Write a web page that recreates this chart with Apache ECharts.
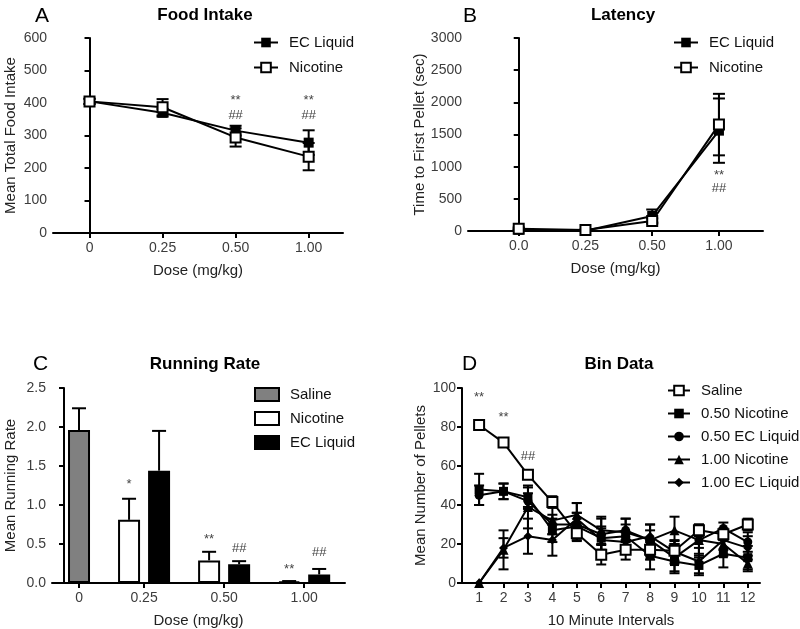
<!DOCTYPE html>
<html><head><meta charset="utf-8">
<script src="https://cdn.jsdelivr.net/npm/echarts@6/dist/echarts.min.js"></script>
<style>html,body{margin:0;padding:0;background:#fff}#c{width:800px;height:629px}</style>
</head><body><div id="c"></div>
<script>
// ---------- DATA ----------
const doseLabelsA = ['0', '0.25', '0.50', '1.00'];
const doseLabelsB = ['0.0', '0.25', '0.50', '1.00'];
const doseLabelsC = ['0', '0.25', '0.50', '1.00'];
const binLabels = [1,2,3,4,5,6,7,8,9,10,11,12];

// A: Food intake
const foodEC = [405, 370, 315, 278];
const foodECErr = [8, 12, 15, 38];
const foodNic = [405, 387, 294, 235];
const foodNicErr = [8, 25, 28, 42];
const foodSigIdx = [2, 2, 3, 3];
const foodSigY = [409, 363, 409, 363];
const foodSigText = ['**', '##', '**', '##'];

// B: Latency
const latEC = [20, 5, 234, 1560];
const latECErr = [15, 5, 100, 500];
const latNic = [36, 15, 156, 1654];
const latNicErr = [20, 8, 40, 478];
const latSigIdx = [3, 3];
const latSigY = [858, 660];
const latSigText = ['**', '##'];

// C: Running rate
const runSaline = [1.96];
const runSalineErr = [0.28];
const runNic = [0.81, 0.29, 0.02];
const runNicErr = [0.27, 0.11, 0.005];
const runEC = [1.44, 0.24, 0.11];
const runECErr = [0.51, 0.04, 0.07];
const runSigNicY = [1.26, 0.56, 0.18];
const runSigNicText = ['*', '**', '**'];
const runSigECY = [null, 0.44, 0.39];
const runSigECText = ['', '##', '##'];

// D: Bin data
const binSaline = [81, 72, 55.5, 41.5, 25.5, 14.5, 17, 17, 16.5, 27, 25, 30];
const binSalineErr = [2, 1.5, 2, 3, 4, 5, 5, 5, 5, 3, 3, 3];
const binNic050 = [48, 47, 44, 27, 29, 23, 24, 14, 11, 9, 15, 13];
const binNic050Err = [8, 4, 5, 6, 7, 6, 6, 7, 6, 4, 7, 6];
const binEC050 = [45, 47, 42, 30, 30, 25, 27, 22, 13, 22, 28, 21];
const binEC050Err = [5, 4, 4, 5, 6, 8, 6, 5, 7, 8, 3, 5];
const binNic100 = [0, 17, 39, 32, 35, 27, 26, 22, 27, 22, 20, 10];
const binNic100Err = [0, 10, 11, 7, 6, 7, 7, 8, 7, 7, 6, 4];
const binEC100 = [0, 18, 24, 22, 33, 22, 21, 24, 16, 11, 22, 18];
const binEC100Err = [0, 5, 9, 8, 8, 6, 5, 6, 6, 7, 5, 6];
const binSigX = [1, 2, 3];
const binSigY = [95, 85, 65];
const binSigText = ['**', '**', '##'];

// ---------- LAYOUT / STYLE ----------
const FONT = 'Liberation Sans, Arial, Helvetica, sans-serif';
const TICKC = '#3c3c3c';
const idx4 = [0, 1, 2, 3];
const halfSlot = 0.1875;
const groupC = [1, 2, 3];
const nicX = groupC.map(g => g - halfSlot);
const ecX = groupC.map(g => g + halfSlot);
const salX = [halfSlot];
const tickC = [halfSlot].concat(groupC);

function pairs(xs, ys) { return xs.map((x, i) => [x, ys[i]]); }
function triples(xs, ys, es) { return xs.map((x, i) => [x, ys[i], es[i]]); }

function xAxis(gi, min, max, ticks, fmt, name) {
  return {
    type: 'value', gridIndex: gi, min, max,
    axisLine: { show: true, lineStyle: { color: '#000', width: 2 } },
    axisTick: { show: true, length: 5, lineStyle: { color: '#000', width: 2 }, customValues: ticks },
    axisLabel: { color: TICKC, fontSize: 14, fontFamily: FONT, margin: 8, customValues: ticks, formatter: fmt },
    splitLine: { show: false },
    name, nameLocation: 'middle', nameGap: 30,
    nameTextStyle: { color: '#222', fontSize: 15, fontFamily: FONT }
  };
}
function yAxis(gi, max, interval, fmt, name, gap) {
  return {
    type: 'value', gridIndex: gi, min: 0, max, interval,
    axisLine: { show: true, lineStyle: { color: '#000', width: 2 } },
    axisTick: { show: true, length: 5, lineStyle: { color: '#000', width: 2 } },
    axisLabel: { color: TICKC, fontSize: 14, fontFamily: FONT, margin: 6, formatter: fmt },
    splitLine: { show: false },
    name, nameLocation: 'middle', nameGap: gap, nameRotate: 90,
    nameTextStyle: { color: '#222', fontSize: 15, fontFamily: FONT }
  };
}
function lineS(name, gi, xs, ys, sym, size, fill) {
  return {
    type: 'line', name, xAxisIndex: gi, yAxisIndex: gi, data: pairs(xs, ys),
    symbol: sym, symbolSize: size, showSymbol: true, z: 4,
    lineStyle: { color: '#000', width: 2 },
    itemStyle: { color: fill, borderColor: '#000', borderWidth: fill === '#fff' ? 2 : 0, opacity: 1 },
    emphasis: { disabled: true }
  };
}
function errS(gi, xs, ys, es, cap, upOnly) {
  return {
    type: 'custom', xAxisIndex: gi, yAxisIndex: gi, z: 3, silent: true,
    data: triples(xs, ys, es), encode: { x: 0, y: 1 },
    renderItem: function (params, api) {
      const x = api.value(0), y = api.value(1), e = api.value(2);
      if (!e) return null;
      const t = api.coord([x, y + e]);
      const b = api.coord([x, upOnly ? y : y - e]);
      const st = { stroke: '#000', lineWidth: 2 };
      const ch = [
        { type: 'line', shape: { x1: t[0], y1: t[1], x2: b[0], y2: b[1] }, style: st },
        { type: 'line', shape: { x1: t[0] - cap / 2, y1: t[1], x2: t[0] + cap / 2, y2: t[1] }, style: st }
      ];
      if (!upOnly) ch.push({ type: 'line', shape: { x1: b[0] - cap / 2, y1: b[1], x2: b[0] + cap / 2, y2: b[1] }, style: st });
      return { type: 'group', children: ch };
    }
  };
}
function sigS(gi, xs, ys, texts) {
  const data = [], tx = [];
  xs.forEach((x, i) => { if (ys[i] != null && texts[i]) { data.push([x, ys[i]]); tx.push(texts[i]); } });
  return {
    type: 'custom', xAxisIndex: gi, yAxisIndex: gi, z: 5, silent: true,
    data, encode: { x: 0, y: 1 },
    renderItem: function (params, api) {
      const p = api.coord([api.value(0), api.value(1)]);
      return { type: 'text', x: p[0], y: p[1],
        style: { text: tx[params.dataIndex], fill: '#444', fontSize: 13, fontFamily: FONT, align: 'center', verticalAlign: 'middle' } };
    }
  };
}
function legend(left, top, names, iw, ih, gap, icon) {
  const l = {
    orient: 'vertical', left, top, itemWidth: iw, itemHeight: ih, itemGap: gap,
    data: names, selectedMode: false,
    formatter: n => n.split('|')[1],
    textStyle: { color: '#111', fontSize: 15, fontFamily: FONT, padding: [0, 0, 0, 6] }
  };
  if (icon) l.icon = icon;
  return l;
}
function title(text, left, top, size, bold) {
  return { text, left, top, textAlign: bold ? 'center' : 'left',
    textStyle: { color: '#000', fontSize: size, fontWeight: bold ? 'bold' : 'normal', fontFamily: FONT } };
}

const option = {
  animation: false,
  backgroundColor: '#fff',
  title: [
    title('A', 30, 1, 21, false), title('Food Intake', 200, 2, 17, true),
    title('B', 458, 1, 21, false), title('Latency', 618, 2, 17, true),
    title('C', 28, 349, 21, false), title('Running Rate', 200, 351, 17, true),
    title('D', 457, 349, 21, false), title('Bin Data', 614, 351, 17, true)
  ],
  grid: [
    { left: 53, top: 38, width: 290, height: 195, outerBoundsMode: 'none' },
    { left: 468, top: 38, width: 295, height: 193, outerBoundsMode: 'none' },
    { left: 52, top: 388, width: 293, height: 195, outerBoundsMode: 'none' },
    { left: 462, top: 388, width: 298, height: 195, outerBoundsMode: 'none' }
  ],
  legend: [
    legend(248, 30, ['A|EC Liquid', 'A|Nicotine'], 24, 12, 10),
    legend(668, 30, ['B|EC Liquid', 'B|Nicotine'], 24, 12, 10),
    legend(249, 382, ['C|Saline', 'C|Nicotine', 'C|EC Liquid'], 24, 13, 9, 'rect'),
    legend(662, 378, ['D|Saline', 'D|0.50 Nicotine', 'D|0.50 EC Liquid', 'D|1.00 Nicotine', 'D|1.00 EC Liquid'], 22, 12, 8)
  ],
  xAxis: [
    xAxis(0, -0.5, 3.47, idx4, v => doseLabelsA[Math.round(v)], 'Dose (mg/kg)'),
    xAxis(1, -0.76, 3.66, idx4, v => doseLabelsB[Math.round(v)], 'Dose (mg/kg)'),
    xAxis(2, -0.15, 3.51, tickC, v => doseLabelsC[tickC.findIndex(t => Math.abs(t - v) < 1e-6)], 'Dose (mg/kg)'),
    xAxis(3, 0.3, 12.5, binLabels, v => String(v), '10 Minute Intervals')
  ],
  yAxis: [
    yAxis(0, 600, 100, v => String(v), 'Mean Total Food Intake', 35),
    yAxis(1, 3000, 500, v => String(v), 'Time to First Pellet (sec)', 38),
    yAxis(2, 2.5, 0.5, v => v.toFixed(1), 'Mean Running Rate', 34),
    yAxis(3, 100, 20, v => String(v), 'Mean Number of Pellets', 34)
  ],
  series: [
    // A
    errS(0, idx4, foodEC, foodECErr, 12, false),
    errS(0, idx4, foodNic, foodNicErr, 12, false),
    lineS('A|EC Liquid', 0, idx4, foodEC, 'rect', 10, '#000'),
    lineS('A|Nicotine', 0, idx4, foodNic, 'rect', 10, '#fff'),
    sigS(0, foodSigIdx, foodSigY, foodSigText),
    // B
    errS(1, idx4, latEC, latECErr, 12, false),
    errS(1, idx4, latNic, latNicErr, 12, false),
    lineS('B|EC Liquid', 1, idx4, latEC, 'rect', 10, '#000'),
    lineS('B|Nicotine', 1, idx4, latNic, 'rect', 10, '#fff'),
    sigS(1, latSigIdx, latSigY, latSigText),
    // C
    { type: 'bar', name: 'C|Saline', xAxisIndex: 2, yAxisIndex: 2, data: pairs(salX, runSaline), barWidth: 22, barGap: '-100%',
      itemStyle: { color: '#808080', borderColor: '#000', borderWidth: 2 }, z: 2, emphasis: { disabled: true } },
    { type: 'bar', name: 'C|Nicotine', xAxisIndex: 2, yAxisIndex: 2, data: pairs(nicX, runNic), barWidth: 22, barGap: '-100%',
      itemStyle: { color: '#fff', borderColor: '#000', borderWidth: 2 }, z: 2, emphasis: { disabled: true } },
    { type: 'bar', name: 'C|EC Liquid', xAxisIndex: 2, yAxisIndex: 2, data: pairs(ecX, runEC), barWidth: 22, barGap: '-100%',
      itemStyle: { color: '#000', borderColor: '#000', borderWidth: 2 }, z: 2, emphasis: { disabled: true } },
    errS(2, salX, runSaline, runSalineErr, 14, true),
    errS(2, nicX, runNic, runNicErr, 14, true),
    errS(2, ecX, runEC, runECErr, 14, true),
    sigS(2, nicX, runSigNicY, runSigNicText),
    sigS(2, ecX, runSigECY, runSigECText),
    // D
    errS(3, binLabels, binSaline, binSalineErr, 10, false),
    errS(3, binLabels, binNic050, binNic050Err, 10, false),
    errS(3, binLabels, binEC050, binEC050Err, 10, false),
    errS(3, binLabels, binNic100, binNic100Err, 10, false),
    errS(3, binLabels, binEC100, binEC100Err, 10, false),
    lineS('D|0.50 Nicotine', 3, binLabels, binNic050, 'rect', 9, '#000'),
    lineS('D|0.50 EC Liquid', 3, binLabels, binEC050, 'circle', 9, '#000'),
    lineS('D|1.00 Nicotine', 3, binLabels, binNic100, 'triangle', 10, '#000'),
    lineS('D|1.00 EC Liquid', 3, binLabels, binEC100, 'diamond', 9, '#000'),
    lineS('D|Saline', 3, binLabels, binSaline, 'rect', 10, '#fff'),
    sigS(3, binSigX, binSigY, binSigText)
  ]
};
const chart = echarts.init(document.getElementById('c'));
chart.setOption(option);
</script>
</body></html>
